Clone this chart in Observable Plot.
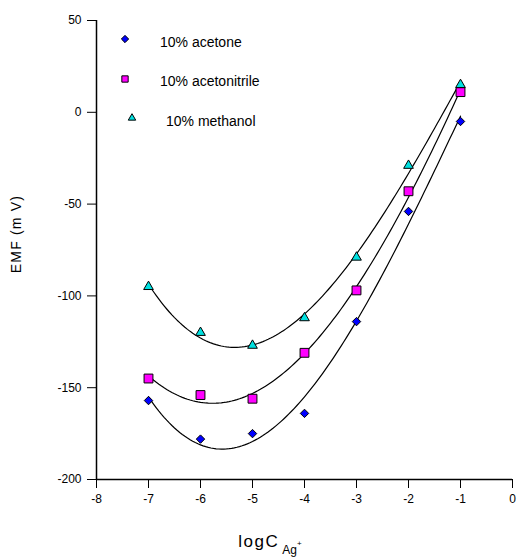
<!DOCTYPE html>
<html>
<head>
<meta charset="utf-8">
<script src="https://cdn.jsdelivr.net/npm/d3@7"></script>
<script src="https://cdn.jsdelivr.net/npm/@observablehq/plot@0.6"></script>
<style>
  html, body { margin: 0; padding: 0; background: #fff; }
  #wrap { position: relative; width: 517px; height: 560px; font-family: "Liberation Sans", Arial, sans-serif; }
  .leg { position: absolute; font-size: 14px; color: #000; white-space: nowrap; }
</style>
</head>
<body>
<div id="wrap"></div>
<script>
const logC = [-7, -6, -5, -4, -3, -2, -1];
const acetone = [-157, -178, -175, -164, -114, -54, -5];
const acetonitrile = [-145, -154, -156, -131, -97, -43, 11];
const methanol = [-95, -120, -127, -112, -79, -29, 15];
const seriesNames = ["10% acetone", "10% acetonitrile", "10% methanol"];
const xTicks = [-8, -7, -6, -5, -4, -3, -2, -1, 0];
const yTicks = [-200, -150, -100, -50, 0, 50];

const seriesVals = [acetone, acetonitrile, methanol];
const symbols = ["diamond2", "square", "triangle"];
const fills = ["#0000ff", "#ff00ff", "#00e0e0"];
const rs = [3.8, 5, 3.6];

const points = [];
seriesVals.forEach((vals, i) => vals.forEach((v, j) => points.push({x: logC[j], y: v, s: i})));

// cubic least-squares fit for each series (trend curves)
function cubicFit(xs, ys) {
  const n = 4;
  const A = Array.from({length: n}, () => new Array(n + 1).fill(0));
  for (let k = 0; k < xs.length; k++) {
    const p = [1, xs[k], xs[k] ** 2, xs[k] ** 3];
    for (let r = 0; r < n; r++) {
      for (let c = 0; c < n; c++) A[r][c] += p[r] * p[c];
      A[r][n] += p[r] * ys[k];
    }
  }
  for (let i = 0; i < n; i++) {
    let m = i;
    for (let r = i + 1; r < n; r++) if (Math.abs(A[r][i]) > Math.abs(A[m][i])) m = r;
    [A[i], A[m]] = [A[m], A[i]];
    for (let r = 0; r < n; r++) {
      if (r === i) continue;
      const f = A[r][i] / A[i][i];
      for (let c = i; c <= n; c++) A[r][c] -= f * A[i][c];
    }
  }
  const coef = A.map((row, i) => row[n] / row[i]);
  return x => coef[0] + coef[1] * x + coef[2] * x * x + coef[3] * x ** 3;
}
const curves = [];
seriesVals.forEach((vals, i) => {
  const f = cubicFit(logC, vals);
  const xs = d3.range(logC[0], logC[logC.length - 1] + 1e-9, 0.05);
  xs.forEach(x => curves.push({x, y: f(x), s: i}));
});

const fmt = d => String(d);

const plot = Plot.plot({
  width: 517,
  height: 560,
  marginLeft: 96,
  marginRight: 5,
  marginTop: 20,
  marginBottom: 81,
  style: {fontFamily: "'Liberation Sans', Arial, sans-serif", fontSize: "12px", color: "#000", background: "#fff"},
  x: {domain: [-8, 0], ticks: xTicks, tickFormat: fmt, label: null},
  y: {domain: [-200, 50], ticks: yTicks, tickFormat: fmt, label: null},
  marks: [
    Plot.line(curves, {x: "x", y: "y", z: "s", stroke: "#000", strokeWidth: 1.2}),
    ...[0, 1, 2].map(i => Plot.dot(points.filter(d => d.s === i), {
      x: "x", y: "y", symbol: () => symbols[i], r: rs[i],
      fill: fills[i], stroke: "#000", strokeWidth: 1
    })),
    Plot.axisX({ticks: xTicks, tickFormat: fmt, tickSize: 9, tickPadding: 6, fontSize: 12, label: null}),
    Plot.axisY({ticks: yTicks, tickFormat: fmt, tickSize: 9, tickPadding: 6, fontSize: 12, label: null}),
    Plot.ruleY([-200], {stroke: "#000", strokeWidth: 1.5}),
    Plot.ruleX([-8], {stroke: "#000", strokeWidth: 1.5})
  ]
});

const svg = d3.select(plot);
// axis titles
svg.append("text")
  .attr("transform", "translate(21,234) rotate(-90)")
  .attr("text-anchor", "middle")
  .attr("font-size", 14)
  .attr("letter-spacing", 1.2)
  .attr("fill", "#000")
  .text("EMF (m V)");
const xl = svg.append("text")
  .attr("x", 270).attr("y", 547)
  .attr("font-size", 17)
  .attr("letter-spacing", 1.5)
  .attr("fill", "#000");
xl.append("tspan").text("logC");
xl.append("tspan").attr("dx", 3).attr("dy", 7).attr("font-size", 12).attr("letter-spacing", 0).text("Ag");
xl.append("tspan").attr("dy", -8).attr("font-size", 8).attr("letter-spacing", 0).text("+");

const wrap = document.getElementById("wrap");
wrap.appendChild(plot);

// legend (HTML overlay)
const legendPos = [
  {mx: 125, my: 39, tx: 160, ty: 34},
  {mx: 125, my: 79, tx: 160, ty: 73},
  {mx: 132, my: 118, tx: 166, ty: 113}
];
const legendSizes = [34, 40, 24];
seriesNames.forEach((name, i) => {
  const p = legendPos[i];
  const s = d3.create("svg").attr("width", 16).attr("height", 16)
    .style("position", "absolute").style("left", (p.mx - 8) + "px").style("top", (p.my - 8) + "px");
  s.append("path")
    .attr("transform", "translate(8,8)")
    .attr("d", d3.symbol(i === 0 ? d3.symbolDiamond2 : i === 1 ? d3.symbolSquare : d3.symbolTriangle, legendSizes[i])())
    .attr("fill", fills[i]).attr("stroke", "#000").attr("stroke-width", 1);
  wrap.appendChild(s.node());
  const t = document.createElement("div");
  t.className = "leg";
  t.style.left = p.tx + "px";
  t.style.top = p.ty + "px";
  t.textContent = name;
  wrap.appendChild(t);
});
</script>
</body>
</html>
